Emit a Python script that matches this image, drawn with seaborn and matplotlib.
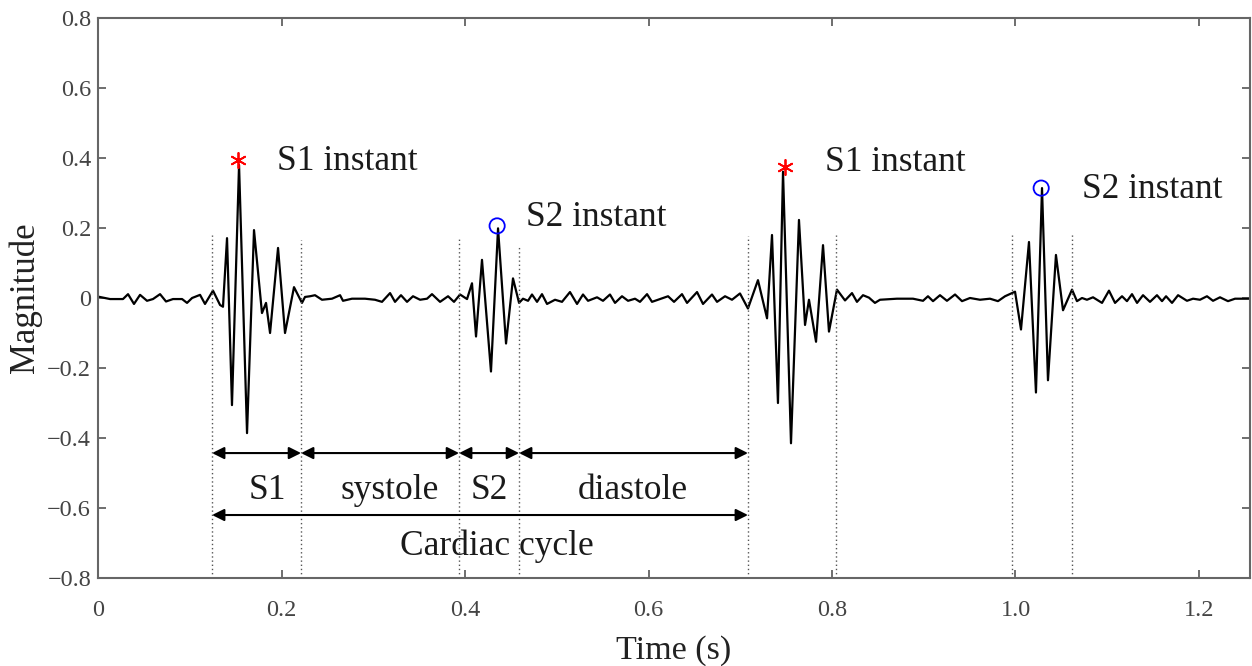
import matplotlib
matplotlib.use("Agg")
import matplotlib.pyplot as plt
import seaborn as sns
import pandas as pd

# ---- data (extrema of the trace) ----
time_s = [0.0000, 0.0131, 0.0272, 0.0327, 0.0392, 0.0458, 0.0534, 0.0599, 0.0676, 0.0741,
          0.0817, 0.0916, 0.0970, 0.1025, 0.1112, 0.1166, 0.1253, 0.1330, 0.1362,
          0.1406, 0.1460, 0.1537, 0.1624, 0.1700, 0.1787, 0.1831, 0.1875, 0.1962, 0.2038,
          0.2136, 0.2223, 0.2256, 0.2311, 0.2365, 0.2441, 0.2550, 0.2638, 0.2670, 0.2768,
          0.2910, 0.3019, 0.3095, 0.3183, 0.3237, 0.3302, 0.3368, 0.3433, 0.3510, 0.3586,
          0.3640, 0.3728, 0.3815, 0.3880, 0.3946, 0.4022,
          0.4076, 0.4120, 0.4185, 0.4283, 0.4360, 0.4447, 0.4523, 0.4589, 0.4632, 0.4687,
          0.4730, 0.4785, 0.4839, 0.4894, 0.4981, 0.5057, 0.5144, 0.5221, 0.5286, 0.5341,
          0.5439, 0.5504, 0.5580, 0.5635, 0.5711, 0.5777, 0.5853, 0.5907, 0.5984, 0.6038,
          0.6104, 0.6213, 0.6278, 0.6365, 0.6420, 0.6529, 0.6594, 0.6692, 0.6747, 0.6834,
          0.6910, 0.6997, 0.7084,
          0.7193, 0.7292, 0.7346, 0.7411, 0.7466, 0.7553, 0.7640, 0.7706, 0.7749, 0.7826,
          0.7902, 0.7967, 0.8054, 0.8142, 0.8218, 0.8272, 0.8338, 0.8403, 0.8468, 0.8523,
          0.8708, 0.8883, 0.8992, 0.9046, 0.9101, 0.9177, 0.9253, 0.9341, 0.9417, 0.9504,
          0.9613, 0.9722, 0.9809, 0.9886, 0.9995,
          1.0060, 1.0147, 1.0223, 1.0289, 1.0354, 1.0441, 1.0518, 1.0616, 1.0670, 1.0725,
          1.0779, 1.0845, 1.0943, 1.1019, 1.1085, 1.1161, 1.1215, 1.1270, 1.1325, 1.1390,
          1.1466, 1.1542, 1.1597, 1.1641, 1.1706, 1.1772, 1.1869, 1.1935, 1.2011, 1.2087,
          1.2153, 1.2229, 1.2316, 1.2393, 1.2480, 1.2556]
magnitude = [0.004, -0.003, -0.003, 0.011, -0.017, 0.009, -0.008, -0.003, 0.011, -0.010,
             -0.003, -0.003, -0.014, 0.000, 0.009, -0.017, 0.021, -0.020, -0.025,
             0.171, -0.306, 0.380, -0.386, 0.194, -0.043, -0.014, -0.100, 0.143, -0.100,
             0.031, -0.014, 0.003, 0.005, 0.008, -0.005, -0.002, 0.008, -0.008, -0.002,
             -0.002, -0.005, -0.011, 0.014, -0.011, 0.008, -0.011, 0.005, -0.005, -0.002,
             0.011, -0.011, 0.005, -0.011, 0.010, -0.003,
             0.042, -0.110, 0.109, -0.210, 0.199, -0.130, 0.056, -0.014, -0.002, -0.008,
             0.010, -0.011, 0.011, -0.017, -0.005, -0.011, 0.017, -0.017, 0.010, -0.008,
             0.002, -0.008, 0.010, -0.014, 0.005, -0.008, -0.002, -0.011, 0.011, -0.011,
             -0.005, 0.005, -0.011, 0.011, -0.014, 0.017, -0.017, 0.010, -0.011, 0.005,
             -0.005, 0.013, -0.030,
             0.051, -0.058, 0.180, -0.300, 0.361, -0.415, 0.223, -0.077, -0.005, -0.125,
             0.151, -0.096, 0.024, -0.007, 0.014, -0.011, 0.008, 0.001, -0.014, -0.005,
             -0.002, -0.002, -0.008, 0.005, -0.009, 0.008, -0.008, 0.010, -0.009, 0.000,
             -0.005, -0.002, -0.009, 0.005, 0.018,
             -0.090, 0.160, -0.270, 0.314, -0.235, 0.123, -0.035, 0.024, -0.009, 0.000,
             -0.005, 0.002, -0.014, 0.021, -0.014, 0.005, -0.009, 0.011, -0.014, 0.008,
             -0.011, 0.008, -0.009, 0.005, -0.014, 0.008, -0.008, -0.002, -0.005, 0.005,
             -0.008, 0.002, -0.009, -0.002, -0.002, -0.002]

s1_time = [0.1526, 0.7490]
s1_mag = [0.394, 0.374]
s2_time = [0.4350, 1.0280]
s2_mag = [0.206, 0.314]

boundary_time = [0.1243, 0.2213, 0.3935, 0.4589, 0.7084, 0.8044, 0.9962, 1.0616]
boundary_top = [0.180, 0.166, 0.174, 0.151, 0.177, 0.180, 0.180, 0.183]

instant_labels = ["S1 instant", "S2 instant", "S1 instant", "S2 instant"]
instant_x = [0.195, 0.467, 0.792, 1.073]
instant_y = [0.390, 0.229, 0.386, 0.309]

phase_labels = ["S1", "systole", "S2", "diastole"]
phase_label_x = [0.185, 0.318, 0.426, 0.583]
cycle_label = "Cardiac cycle"
cycle_label_x = 0.435

xticks = [0, 0.2, 0.4, 0.6, 0.8, 1.0, 1.2]
xtick_labels = ["0", "0.2", "0.4", "0.6", "0.8", "1.0", "1.2"]
yticks = [-0.8, -0.6, -0.4, -0.2, 0, 0.2, 0.4, 0.6, 0.8]
ytick_labels = ["\u22120.8", "\u22120.6", "\u22120.4", "\u22120.2", "0", "0.2", "0.4", "0.6", "0.8"]

# ---- plotting ----
sns.set_theme(style="white")
plt.rcParams["font.family"] = ["Liberation Serif", "DejaVu Serif"]

fig = plt.figure(figsize=(12.52, 6.66), dpi=100)
ax = fig.add_axes([0.0783, 0.1321, 0.9201, 0.8409])

df = pd.DataFrame({"t": time_s, "m": magnitude})
sns.lineplot(data=df, x="t", y="m", ax=ax, color="black", linewidth=1.6,
             estimator=None, sort=False)

# segment boundaries
for bt, top in zip(boundary_time, boundary_top):
    ax.plot([bt, bt], [-0.8, top], linestyle=(0, (1, 2)), color="#555555", linewidth=1.0)

# instants
ax.scatter(s1_time, s1_mag, marker=(6, 2, 0), s=120, color="red", linewidths=1.3, zorder=5)
ax.scatter(s2_time, s2_mag, marker="o", s=120, facecolors="none", edgecolors="blue",
           linewidths=1.3, zorder=5)
for lab, x, y in zip(instant_labels, instant_x, instant_y):
    ax.text(x, y, lab, fontsize=25.5, color="#1a1a1a", ha="left", va="center")

# phase arrows
row1 = -0.443
row2 = -0.620
edges = boundary_time[:5]
arrow_kw = dict(arrowstyle="<|-|>", color="black", lw=1.5, mutation_scale=18,
                shrinkA=0, shrinkB=0)
for i, lab in enumerate(phase_labels):
    a, b = edges[i], edges[i + 1]
    ax.annotate("", xy=(a, row1), xytext=(b, row1), arrowprops=arrow_kw)
    ax.text(phase_label_x[i], -0.549, lab, fontsize=25.5, color="#1a1a1a",
            ha="center", va="center")
ax.annotate("", xy=(edges[0], row2), xytext=(edges[4], row2), arrowprops=arrow_kw)
ax.text(cycle_label_x, -0.708, cycle_label, fontsize=25.5, color="#1a1a1a",
        ha="center", va="center")

ax.set_xlim(0, 1.2556)
ax.set_ylim(-0.8, 0.8)
ax.set_xticks(xticks)
ax.set_xticklabels(xtick_labels)
ax.set_yticks(yticks)
ax.set_yticklabels(ytick_labels)
ax.tick_params(direction="in", length=6, width=1.2, colors="#555555", labelcolor="#444444",
               labelsize=17.5, top=True, right=True, bottom=True, left=True)
ax.tick_params(axis="x", pad=16)
ax.tick_params(axis="y", pad=5)
ax.set_xlabel("Time (s)", fontsize=24.5, color="#222222", labelpad=10)
ax.set_ylabel("Magnitude", fontsize=25, color="#222222", labelpad=4)
for sp in ax.spines.values():
    sp.set_color("#666666")
    sp.set_linewidth(1.5)
ax.grid(False)

fig.savefig("out.png", dpi=100)
